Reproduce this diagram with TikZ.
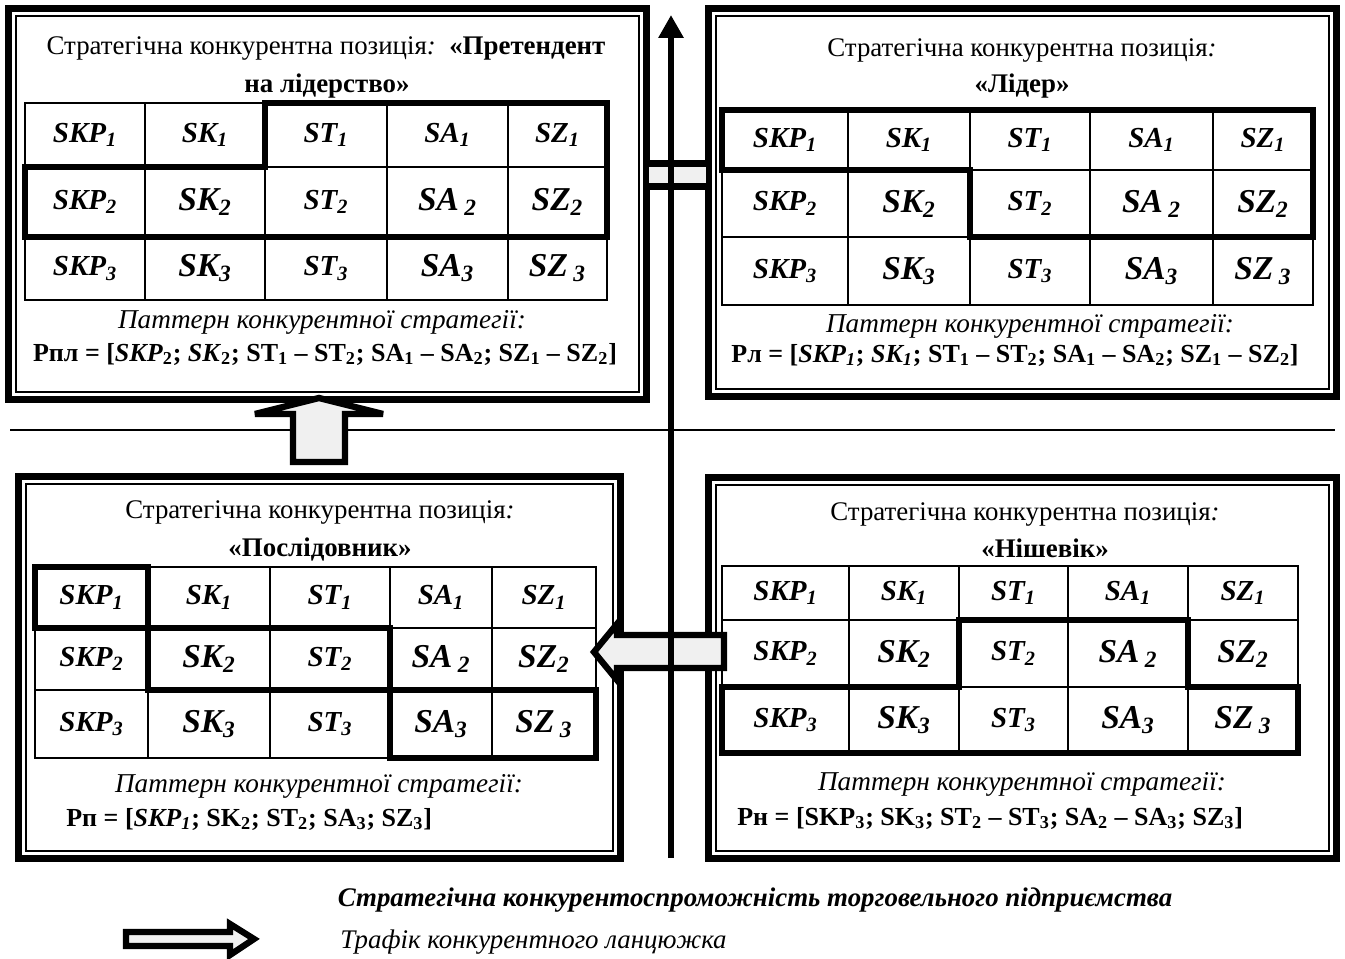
\documentclass[tikz,border=0pt]{standalone}
\usepackage{fontspec}
\setmainfont{Liberation Serif}
\usetikzlibrary{arrows.meta}

\newcommand{\cellsm}[2]{{\fontsize{16.5}{19}\selectfont\textbf{\textit{#1\textsubscript{#2}}}}}
\newcommand{\cellbg}[2]{{\fontsize{19}{22}\selectfont\textbf{\textit{#1\textsubscript{#2}}}}}
\newcommand{\celltxt}[2]{%
  \ifcase#1\or
    \ifcase#2\or\cellsm{SKP}{1}\or\cellsm{SK}{1}\or\cellsm{ST}{1}\or\cellsm{SA}{1}\or\cellsm{SZ}{1}\fi
  \or
    \ifcase#2\or\cellsm{SKP}{2}\or\cellbg{SK}{2}\or\cellsm{ST}{2}\or\cellbg{SA\,}{2}\or\cellbg{SZ}{2}\fi
  \or
    \ifcase#2\or\cellsm{SKP}{3}\or\cellbg{SK}{3}\or\cellsm{ST}{3}\or\cellbg{SA}{3}\or\cellbg{SZ\,}{3}\fi
  \fi}

\tikzset{
  frameout/.style={line width=4pt},
  framein/.style={line width=0.85pt},
  cell/.style={line width=0.8pt},
  hl/.style={line width=3.8pt, line join=miter},
  hollow/.style={draw, line width=3.6pt, fill=black!6, line join=miter, miter limit=4},
  axisline/.style={line width=3.6pt, -{Triangle[width=13.6pt,length=13pt]}},
  txt/.style={inner sep=0pt, anchor=base},
  pat/.style={txt, font=\fontsize{15.5}{18}\selectfont\itshape},
  form/.style={txt, font=\fontsize{14.8}{18}\selectfont\bfseries},
}

\begin{document}
\begin{tikzpicture}[x=0.02cm, y=-0.02cm, font=\fontsize{15.3}{18}\selectfont]
  \useasboundingbox (0,0) rectangle (1345,959);

  % frames of the four positions
  \draw[frameout] (8.5,8.5) rectangle (646.5,399.5);
  \draw[framein] (16,16) rectangle (639,392);
  \draw[frameout] (708.5,8.5) rectangle (1336.5,396.5);
  \draw[framein] (716,16) rectangle (1329,389);
  \draw[frameout] (18.5,476.5) rectangle (620.5,858.5);
  \draw[framein] (26,484) rectangle (613,851);
  \draw[frameout] (708.5,477.5) rectangle (1336.5,858.5);
  \draw[framein] (716,485) rectangle (1329,851);

  % Претендент на лідерство
  \node[txt] (tlhead) at (326,55) {Стратегічна конкурентна позиція\textit{:}\ \ \textbf{«Претендент}};
  \node[txt] (tlname) at (327,93) {\textbf{на лідерство»}};
  \foreach \ya/\yb [count=\ri] in {103/167,167/237,237/300}
    \foreach \xa/\xb [count=\ci] in {25/145,145/265,265/387,387/508,508/607}
      \draw[cell] (\xa,\ya) rectangle (\xb,\yb) node(tl\ri\ci)[pos=.5]{\celltxt{\ri}{\ci}};
  \draw[hl] (265,103) -- (607,103) -- (607,237) -- (25,237) -- (25,167) -- (265,167) -- cycle;
  \node[pat] (tlpat) at (322,329) {Паттерн конкурентної стратегії:};
  \node[form] (tlform) at (325,361) {Рпл = [\textit{SKP}\textsubscript{2}; \textit{SK}\textsubscript{2}; ST\textsubscript{1} – ST\textsubscript{2}; SA\textsubscript{1} – SA\textsubscript{2}; SZ\textsubscript{1} – SZ\textsubscript{2}]};

  % Лідер
  \node[txt] (trhead) at (1022,57) {Стратегічна конкурентна позиція\textit{:}};
  \node[txt] (trname) at (1022,93) {\textbf{«Лідер»}};
  \foreach \ya/\yb [count=\ri] in {110/170,170/237,237/305}
    \foreach \xa/\xb [count=\ci] in {722/848,848/970,970/1090,1090/1213,1213/1313}
      \draw[cell] (\xa,\ya) rectangle (\xb,\yb) node(tr\ri\ci)[pos=.5]{\celltxt{\ri}{\ci}};
  \draw[hl] (722,110) -- (1313,110) -- (1313,237) -- (970,237) -- (970,170) -- (722,170) -- cycle;
  \node[pat] (trpat) at (1030,333) {Паттерн конкурентної стратегії:};
  \node[form] (trform) at (1015,362) {Рл = [\textit{SKP\textsubscript{1}}; \textit{SK\textsubscript{1}}; ST\textsubscript{1} – ST\textsubscript{2}; SA\textsubscript{1} – SA\textsubscript{2}; SZ\textsubscript{1} – SZ\textsubscript{2}]};

  % Послідовник
  \node[txt] (blhead) at (320,518) {Стратегічна конкурентна позиція\textit{:}};
  \node[txt] (blname) at (320,556) {\textbf{«Послідовник»}};
  \foreach \ya/\yb [count=\ri] in {567/628,628/690,690/758}
    \foreach \xa/\xb [count=\ci] in {35/148,148/270,270/390,390/492,492/596}
      \draw[cell] (\xa,\ya) rectangle (\xb,\yb) node(bl\ri\ci)[pos=.5]{\celltxt{\ri}{\ci}};
  \draw[hl] (35,567) rectangle (148,628);
  \draw[hl] (148,628) rectangle (390,690);
  \draw[hl] (390,690) rectangle (596,758);
  \node[pat] (blpat) at (319,792) {Паттерн конкурентної стратегії:};
  \node[form, anchor=base west] (blform) at (66,826) {Рп = [\textit{SKP\textsubscript{1}}; SK\textsubscript{2}; ST\textsubscript{2}; SA\textsubscript{3}; SZ\textsubscript{3}]};

  % Нішевік
  \node[txt] (brhead) at (1025,520) {Стратегічна конкурентна позиція\textit{:}};
  \node[txt] (brname) at (1045,557) {\textbf{«Нішевік»}};
  \foreach \ya/\yb [count=\ri] in {566/620,620/687,687/753}
    \foreach \xa/\xb [count=\ci] in {722/849,849/959,959/1068,1068/1188,1188/1298}
      \draw[cell] (\xa,\ya) rectangle (\xb,\yb) node(br\ri\ci)[pos=.5]{\celltxt{\ri}{\ci}};
  \draw[hl] (722,687) -- (959,687) -- (959,620) -- (1188,620) -- (1188,687) -- (1298,687) -- (1298,753) -- (722,753) -- cycle;
  \node[pat] (brpat) at (1022,790) {Паттерн конкурентної стратегії:};
  \node[form, anchor=base west] (brform) at (737,825) {Рн = [SKP\textsubscript{3}; SK\textsubscript{3}; ST\textsubscript{2} – ST\textsubscript{3}; SA\textsubscript{2} – SA\textsubscript{3}; SZ\textsubscript{3}]};

  % divider
  \draw[line width=0.85pt] (10,430) -- (1335,430);

  % traffic of the competitive chain
  \draw[hollow] (646,163.5) rectangle (709,186.5);
  \draw[hollow] (293,462) -- (293,414) -- (255,414) -- (319,398) -- (383,414) -- (345,414) -- (345,462) -- cycle;
  \draw[hollow] (724,635) -- (617,635) -- (617,624) -- (594,652) -- (617,680) -- (617,668) -- (724,668) -- cycle;

  % axis
  \coordinate (axisbot) at (671,858);
  \coordinate (axistop) at (671,15);
  \draw[axisline] (axisbot) -- (axistop);

  % legend
  \node[txt] (legaxis) at (755,906) {\textbf{\textit{Стратегічна конкурентоспроможність торговельного підприємства}}};
  \draw[hollow] (126,932) -- (230,932) -- (230,924) -- (254,939) -- (230,955) -- (230,946) -- (126,946) -- cycle;
  \node[txt, anchor=base west] (legtraffic) at (340,948) {\textit{Трафік конкурентного ланцюжка}};
\end{tikzpicture}
\end{document}
